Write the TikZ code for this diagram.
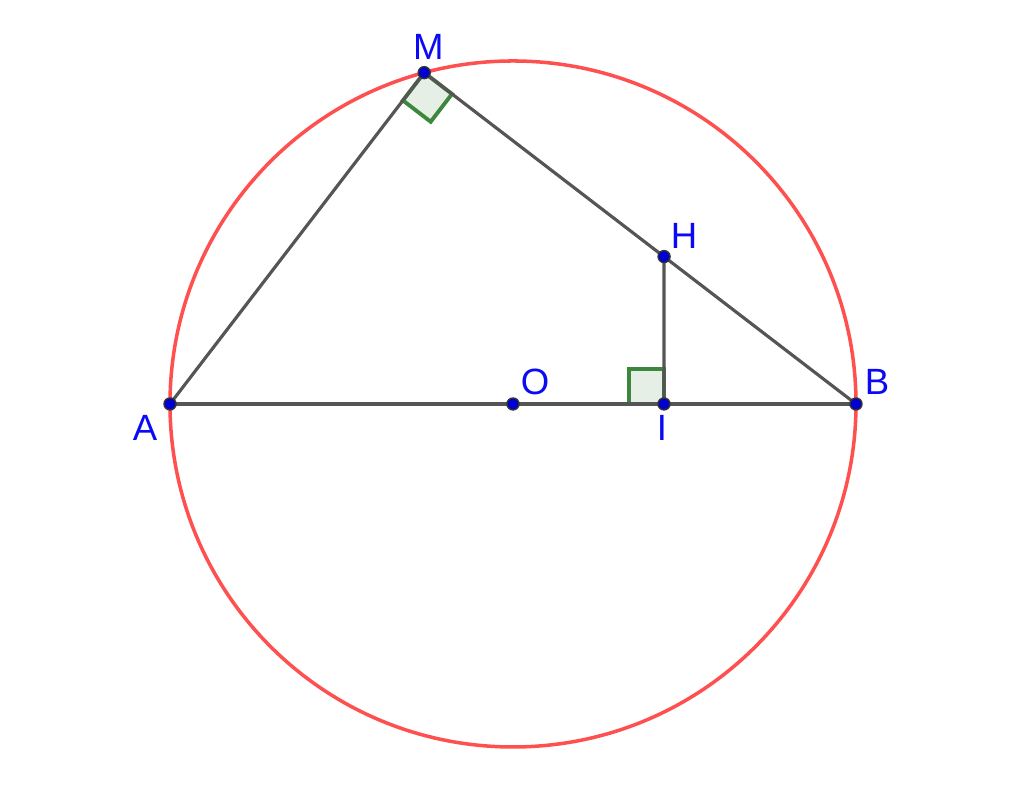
\documentclass[tikz,border=0pt]{standalone}
\usepackage{fontspec}
\setmainfont{Liberation Sans}
\usetikzlibrary{calc}
\definecolor{ptblue}{RGB}{0,0,210}
\definecolor{lblblue}{RGB}{10,10,245}
\definecolor{segcol}{RGB}{85,85,85}
\definecolor{circcol}{RGB}{255,80,80}
\definecolor{rgtdraw}{RGB}{60,135,60}
\definecolor{rgtfill}{RGB}{229,239,229}
\tikzset{
  seg/.style={draw=segcol, line width=0.9pt},
  circ/.style={draw=circcol, line width=1pt},
  rgt/.style={draw=rgtdraw, fill=rgtfill, line width=1.1pt, line join=miter},
  pt/.style={circle, fill=ptblue, draw=black!80, line width=0.4pt, inner sep=0pt, minimum size=1.2mm},
  lbl/.style={text=lblblue, inner sep=0pt, font=\fontsize{10.4}{12}\selectfont}
}
\begin{document}
\begin{tikzpicture}
\useasboundingbox (0,0) rectangle (10.24,7.92);

% GLOBAL SETTINGS
\newcommand{\rad}{3.43}
\newcommand{\sq}{0.35cm}

% POINTS
\coordinate (O) at (5.13,3.88);
\path (O) +(180:\rad) coordinate (A)
          +(0:\rad)   coordinate (B)
          +(105:\rad) coordinate (M);
\coordinate (I) at (6.64,3.88);
\path (intersection cs:first line={(M)--(B)}, second line={(I)--(I|-M)}) coordinate (H);

% circle
\draw[circ] (O) circle (\rad);

% right angles
\path ($(M)!\sq!(A)$) coordinate (ma) ($(M)!\sq!(B)$) coordinate (mb);
\draw[rgt] (M) -- (ma) -- ($(ma)+(mb)-(M)$) -- (mb) -- cycle;
\path ($(I)!\sq!(A)$) coordinate (ia) ($(I)!\sq!(H)$) coordinate (ih);
\draw[rgt] (I) -- (ia) -- ($(ia)+(ih)-(I)$) -- (ih) -- cycle;

% EDGES
\draw[seg] (A) -- (B);
\draw[seg] (A) -- (M) -- (B);
\draw[seg] (I) -- (H);

% dots & labels
\foreach \n/\dx/\dy in {A/-0.25/-0.24, B/0.21/0.22, M/0.04/0.26, O/0.22/0.22, I/-0.02/-0.24, H/0.20/0.21} {
  \node[pt] (p\n) at (\n) {};
  \path (\n) +(\dx,\dy) node[lbl] (l\n) {\n};
}

\end{tikzpicture}
\end{document}
